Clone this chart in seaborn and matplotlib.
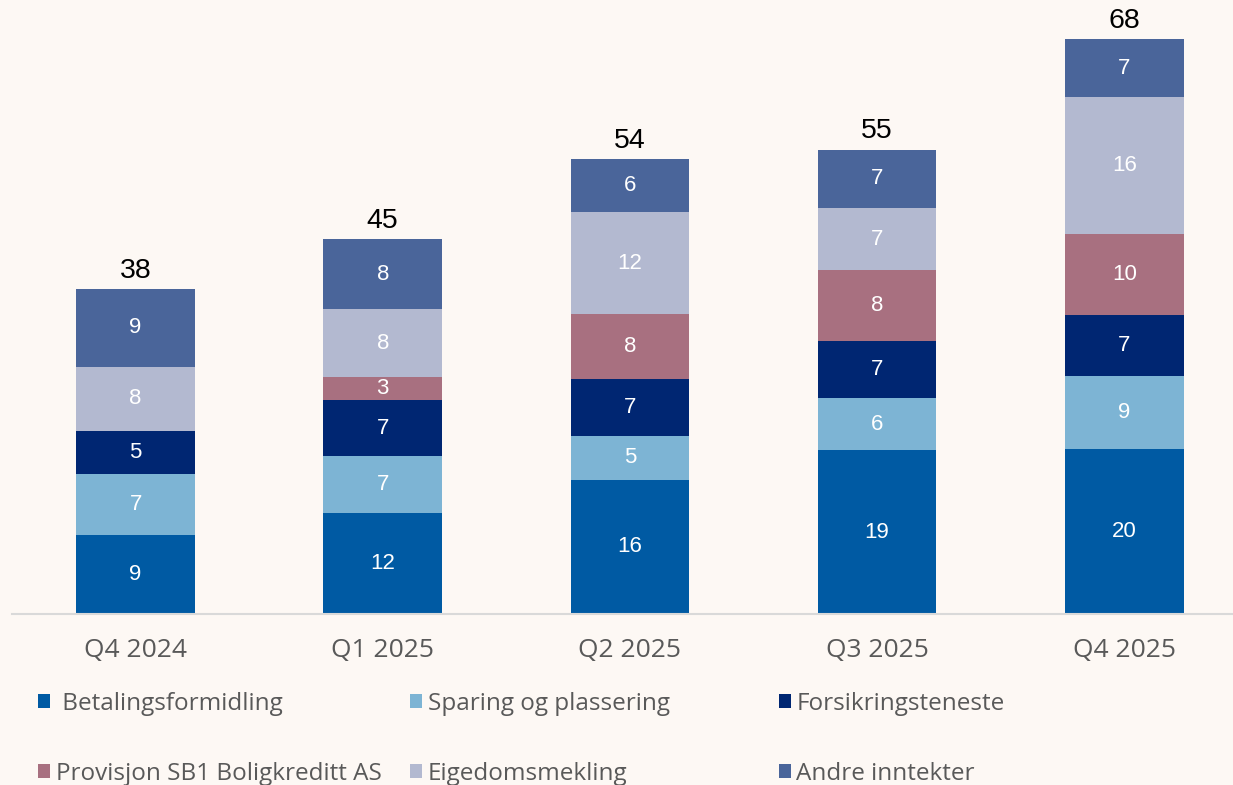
import numpy as np
import matplotlib.pyplot as plt
import seaborn as sns
from matplotlib.patches import Patch

quarters = ["Q4 2024", "Q1 2025", "Q2 2025", "Q3 2025", "Q4 2025"]
categories = ["Betalingsformidling", "Sparing og plassering", "Forsikringsteneste",
              "Provisjon SB1 Boligkreditt AS", "Eigedomsmekling", "Andre inntekter"]
betaling = [9.4, 12.0, 15.9, 19.4, 19.6]
sparing = [7.2, 6.7, 5.2, 6.2, 8.6]
forsikring = [5.1, 6.6, 6.8, 6.8, 7.2]
provisjon = [0.0, 2.8, 7.6, 8.3, 9.6]
eigedom = [7.6, 8.0, 12.1, 7.4, 16.2]
andre = [9.2, 8.3, 6.3, 6.9, 6.9]
totals = [38, 45, 54, 55, 68]

colors = ["#005AA3", "#7DB4D4", "#002672", "#A87080", "#B3B9D0", "#4A659A"]
bg = "#FDF8F4"

sns.set_style("white")
plt.rcParams["font.family"] = ["Open Sans", "DejaVu Sans"]

fig = plt.figure(figsize=(12.33, 7.85), dpi=100, facecolor=bg)
ax = fig.add_axes([12 / 1233, 171 / 785, 1221 / 1233, 614 / 785])
ax.set_facecolor(bg)

series = [betaling, sparing, forsikring, provisjon, eigedom, andre]
bottom = np.zeros(len(quarters))
for name, vals, col in zip(categories, series, colors):
    vals = np.array(vals)
    sns.barplot(x=quarters, y=vals, bottom=bottom, color=col, saturation=1,
                width=0.48, linewidth=0, errorbar=None, ax=ax)
    for i, v in enumerate(vals):
        if v > 0:
            ax.text(i, bottom[i] + v / 2, f"{v:.0f}", ha="center", va="center",
                    color="white", fontsize=16, family="Liberation Sans")
    bottom += vals

# totals above the bars
for i, t in enumerate(totals):
    ax.annotate(f"{t}", (i, bottom[i]), xytext=(0, 4), textcoords="offset points",
                ha="center", va="bottom", fontsize=20.5, color="black",
                family="Liberation Sans")

ax.set_xlim(-0.5, 4.44)
ax.set_ylim(0, 72.75)
ax.set_yticks([])
ax.set_ylabel("")
for s in ["top", "left", "right"]:
    ax.spines[s].set_visible(False)
ax.spines["bottom"].set_color("#D9D9D9")
ax.spines["bottom"].set_linewidth(1.5)
ax.tick_params(axis="x", length=0, pad=17, labelsize=19, labelcolor="#595959")

handles = [Patch(facecolor=c, edgecolor="none") for c in colors]
labels = [" " + categories[0]] + categories[1:]
col_x = [38 / 1233, 410 / 1233, 779 / 1233]
for j in range(3):
    fig.legend([handles[j], handles[j + 3]], [labels[j], labels[j + 3]],
               loc="upper left", bbox_to_anchor=(col_x[j], 0.119), frameon=False,
               prop={"family": "Open Sans", "size": 17.5}, labelcolor="#595959",
               handlelength=0.5, handleheight=0.5, handletextpad=0.22,
               labelspacing=1.9, borderpad=0, borderaxespad=0)

fig.savefig("out.png", dpi=100, facecolor=bg)
